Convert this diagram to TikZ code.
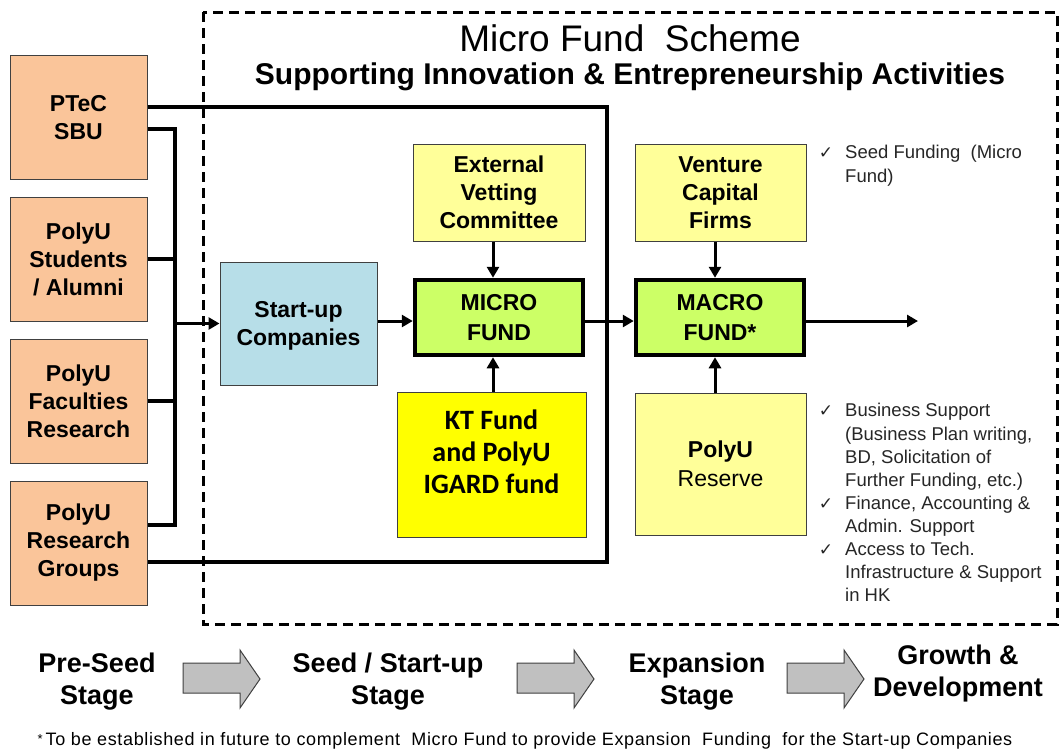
\documentclass[tikz,border=0pt]{standalone}
\usepackage{fontspec}
\setmainfont{Liberation Sans}
\newfontfamily\calfont{Carlito}
\newfontfamily\dvfont{DejaVu Sans}
\newfontfamily\footfont[LetterSpace=3.5]{Liberation Sans}
\usetikzlibrary{arrows.meta,calc}
\definecolor{orangefill}{HTML}{FAC59A}
\definecolor{bluefill}{HTML}{B7DEE8}
\definecolor{greenfill}{HTML}{CCFF66}
\definecolor{paleyellow}{HTML}{FFFF99}
\definecolor{brightyellow}{HTML}{FFFF00}
\definecolor{arrowgray}{HTML}{C0C0C0}
\begin{document}
\begin{tikzpicture}[x=1pt,y=-1pt,
  box/.style={draw=black!75, line width=1pt, align=center, inner sep=0pt,
    font=\fontsize{23}{28}\selectfont\bfseries},
  src/.style={box, fill=orangefill, minimum width=137pt, minimum height=124pt},
  pale/.style={box, fill=paleyellow, minimum width=172pt},
  fundbox/.style={box, fill=greenfill, draw=black, line width=4.5pt,
    minimum width=168pt, minimum height=75pt, font=\fontsize{23}{30}\selectfont\bfseries},
  conn/.style={line width=3.5pt},
  arr/.style={line width=3pt, -{Triangle[length=11pt,width=12pt]}},
  note/.style={anchor=base west, inner sep=0pt, text=black!85, font=\fontsize{18.5}{23}\selectfont},
  tick/.style={anchor=base, inner sep=0pt, text=black!85, font=\dvfont\fontsize{17}{18}\selectfont},
  stage/.style={align=center, inner sep=0pt, font=\fontsize{27}{32}\selectfont\bfseries},
  stagearrow/.style={fill=arrowgray, draw=black!75, line width=1pt}
]
\useasboundingbox (0,0) rectangle (1060,748);
\fill[white] (0,0) rectangle (1060,748);

% dashed frame
\draw[line width=3pt, dash pattern=on 10pt off 6pt] (203,12) rectangle (1057,624);

% titles
\node[inner sep=0pt, font=\fontsize{37}{40}\selectfont] (title) at (630,38) {Micro Fund\ \ Scheme};
\node[inner sep=0pt, font=\fontsize{30}{34}\selectfont\bfseries] (subtitle) at (630,77) {Supporting Innovation \& Entrepreneurship Activities};

% source boxes
\node[src] (ptec) at (78.5,117.5) {PTeC\\SBU};
\node[src] (stu) at (78.5,259) {PolyU\\Students\\/ Alumni};
\node[src] (fac) at (78.5,401) {PolyU\\Faculties\\Research};
\node[src] (rg) at (78.5,543) {PolyU\\Research\\Groups};

% central boxes
\node[box, fill=bluefill, minimum width=157pt, minimum height=123pt] (startup) at (298.5,323.5) {};
\node[inner sep=0pt, align=center, font=\fontsize{23}{28}\selectfont\bfseries] (sutext) at (298.5,326) {Start-up\\Companies};
\node[pale, minimum height=97pt] (vet) at (499,192.5) {External\\Vetting\\Committee};
\node[fundbox] (micro) at (499,317.5) {MICRO\\FUND};
\node[box, fill=brightyellow, minimum width=189pt, minimum height=145pt] (kt) at (491.5,464.5) {};
\node[inner sep=0pt, align=center, font=\calfont\fontsize{28}{32}\selectfont\bfseries] (kttext) at (491.5,452) {KT Fund\\and PolyU\\IGARD fund};

\node[pale, minimum width=171pt, minimum height=97pt] (vc) at (720.5,192.5) {Venture\\Capital\\Firms};
\node[fundbox] (macro) at (720,317.5) {MACRO\\FUND*};
\node[pale, minimum width=171pt, minimum height=142pt, font=\fontsize{23}{29}\selectfont] (res) at (720.5,464) {\textbf{PolyU}\\Reserve};

% helper coordinates
\coordinate (topy) at (0,107);
\coordinate (boty) at (0,562);
\coordinate (b1) at (175,129);
\coordinate (b4) at (175,525);
\coordinate (ay) at (0,321);
\coordinate (vx) at (493,0);
\coordinate (mx) at (715,0);
\coordinate (outend) at (918,321);

% outer loop line from PTeC to Research Groups
\draw[conn] (ptec.east |- topy) -- (607,107) -- (607,562) -- (rg.east |- boty);
% bracket
\draw[conn] (ptec.east |- b1) -- (b1) -- (b4) -- (rg.east |- b4);
\draw[conn] (stu.east) -- (stu.east -| b1);
\draw[conn] (fac.east) -- (fac.east -| b1);
\draw[arr] (b1 |- startup.west) -- (startup.west);

% flow arrows
\draw[arr] (startup.east |- ay) -- (micro.west |- ay);
\draw[arr] (micro.east |- ay) -- (macro.west |- ay);
\draw[arr] (macro.east |- ay) -- (outend);
\draw[arr] (vet.south -| vx) -- (micro.north -| vx);
\draw[arr] (kt.north -| vx) -- (micro.south -| vx);
\draw[arr] (vc.south -| mx) -- (macro.north -| mx);
\draw[arr] (res.north -| mx) -- (macro.south -| mx);

% right notes
\node[tick] (k1) at (826,158) {✓};
\node[note] (n1a) at (845,158) {Seed Funding\ \ (Micro};
\node[note] (n1b) at (845,182) {Fund)};
\node[tick] (k2) at (826,416) {✓};
\node[note] (n2a) at (845,416) {Business Support};
\node[note] (n2b) at (845,440) {(Business Plan writing,};
\node[note] (n2c) at (845,463) {BD, Solicitation of};
\node[note] (n2d) at (845,486) {Further Funding, etc.)};
\node[tick] (k3) at (826,509) {✓};
\node[note] (n3a) at (845,509) {Finance, Accounting \&};
\node[note] (n3b) at (845,532) {Admin. Support};
\node[tick] (k4) at (826,555) {✓};
\node[note] (n4a) at (845,555) {Access to Tech.};
\node[note] (n4b) at (845,578) {Infrastructure \& Support};
\node[note] (n4c) at (845,601) {in HK};

% stage row
\node[stage] (s1) at (97,682) {Pre-Seed\\Stage};
\node[stage] (s2) at (388,682) {Seed / Start-up\\Stage};
\node[stage] (s3) at (697,682) {Expansion\\Stage};
\node[stage] (s4) at (958,674) {Growth \&\\Development};
\foreach \x in {183,517,787}{
  \draw[stagearrow] (\x,663) -- (\x+57,663) -- (\x+57,650) -- (\x+77,679) -- (\x+57,708) -- (\x+57,693) -- (\x,693) -- cycle;
}

% footnote
\node[anchor=base, inner sep=0pt, font=\footfont\fontsize{18}{20}\selectfont] (foot) at (525,745) {{\fontsize{13}{14}\selectfont\raisebox{2pt}{*}}\,To be established in future to complement\ \ Micro Fund to provide Expansion\ \ Funding\ \ for the Start-up Companies};
\end{tikzpicture}
\end{document}
